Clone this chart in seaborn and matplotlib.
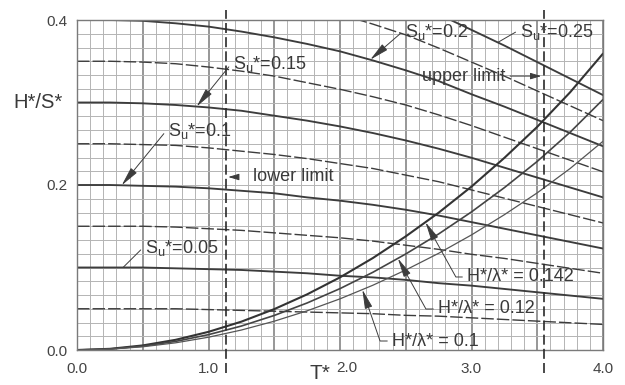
import numpy as np
import pandas as pd
import matplotlib
matplotlib.use("Agg")
import matplotlib.pyplot as plt
from matplotlib.transforms import ScaledTranslation
import seaborn as sns

# Dimensionless wave period T*
t_star = [0.00, 0.25, 0.50, 0.75, 1.00, 1.25, 1.50, 1.75, 2.00,
          2.25, 2.50, 2.75, 3.00, 3.25, 3.50, 3.75, 4.00]

# H*/S* along lines of constant Su*
hs_su_0025 = [0.050, 0.050, 0.050, 0.050, 0.049, 0.048, 0.047, 0.046, 0.045,
              0.044, 0.042, 0.041, 0.039, 0.037, 0.035, 0.033, 0.031]
hs_su_0050 = [0.100, 0.100, 0.100, 0.099, 0.098, 0.097, 0.095, 0.093, 0.090,
              0.088, 0.085, 0.081, 0.078, 0.074, 0.070, 0.066, 0.062]
hs_su_0075 = [0.150, 0.150, 0.150, 0.149, 0.147, 0.145, 0.142, 0.139, 0.136,
              0.132, 0.127, 0.122, 0.116, 0.111, 0.105, 0.099, 0.093]
hs_su_0100 = [0.200, 0.200, 0.199, 0.198, 0.196, 0.193, 0.190, 0.185, 0.181,
              0.176, 0.170, 0.163, 0.155, 0.147, 0.139, 0.131, 0.123]
hs_su_0125 = [0.250, 0.250, 0.249, 0.248, 0.245, 0.241, 0.237, 0.232, 0.226,
              0.220, 0.212, 0.204, 0.194, 0.184, 0.174, 0.164, 0.154]
hs_su_0150 = [0.300, 0.300, 0.299, 0.297, 0.294, 0.290, 0.284, 0.278, 0.271,
              0.263, 0.254, 0.244, 0.233, 0.221, 0.209, 0.197, 0.185]
hs_su_0175 = [0.350, 0.350, 0.349, 0.347, 0.343, 0.338, 0.332, 0.324, 0.316,
              0.307, 0.297, 0.285, 0.272, 0.258, 0.244, 0.230, 0.216]
hs_su_0200 = [0.400, 0.400, 0.399, 0.396, 0.392, 0.386, 0.379, 0.371, 0.362,
              0.351, 0.339, 0.326, 0.310, 0.295, 0.279, 0.263, 0.247]
hs_su_0225 = [0.450, 0.450, 0.449, 0.446, 0.441, 0.434, 0.427, 0.417, 0.407,
              0.395, 0.382, 0.366, 0.349, 0.332, 0.314, 0.296, 0.278]
hs_su_0250 = [0.500, 0.500, 0.499, 0.495, 0.490, 0.483, 0.474, 0.464, 0.452,
              0.439, 0.424, 0.407, 0.388, 0.369, 0.349, 0.329, 0.309]

su_levels = [0.025, 0.05, 0.075, 0.10, 0.125, 0.15, 0.175, 0.20, 0.225, 0.25]
su_series = [hs_su_0025, hs_su_0050, hs_su_0075, hs_su_0100, hs_su_0125,
             hs_su_0150, hs_su_0175, hs_su_0200, hs_su_0225, hs_su_0250]

# Dimensionless wavelength λ* against T*, and the steepness limits H*/λ*
wavelength = [0.000, 0.010, 0.039, 0.087, 0.155, 0.242, 0.349, 0.475, 0.620,
              0.785, 0.970, 1.172, 1.395, 1.640, 1.905, 2.200, 2.530]
steepness = [0.142, 0.12, 0.1]

# Operating range of the paddle
lower_limit_t = 1.13
upper_limit_t = 3.55

# ---------------------------------------------------------------- styling
sns.set_style("white")
plt.rcParams["font.family"] = ["Liberation Sans", "DejaVu Sans"]
plt.rcParams["mathtext.fontset"] = "custom"
plt.rcParams["mathtext.rm"] = "Liberation Sans"
plt.rcParams["mathtext.it"] = "Liberation Sans"

INK = "#3a3a3a"
LINE = "#3c3c3c"

fig = plt.figure(figsize=(6.25, 3.85), dpi=100)
ax = fig.add_axes([77 / 625, 35 / 385, 526 / 625, 330 / 385])

# Su* family
su_frame = pd.DataFrame({
    "T": np.tile(t_star, len(su_levels)),
    "HS": np.concatenate(su_series),
    "Su": np.repeat(su_levels, len(t_star)),
})
for k, su in enumerate(su_levels):
    sub = su_frame[su_frame["Su"] == su]
    solid = (k % 2 == 1)
    sns.lineplot(data=sub, x="T", y="HS", ax=ax, estimator=None, sort=True,
                 color=LINE, lw=1.35 if solid else 1.0,
                 linestyle="-" if solid else (0, (9, 2.2)))

# Steepness family
steep_frame = pd.DataFrame({
    "T": np.tile(t_star, len(steepness)),
    "H": np.concatenate([np.array(wavelength) * s for s in steepness]),
    "s": np.repeat(steepness, len(t_star)),
})
steep_styles = {0.142: (1.5, "#333333"), 0.12: (1.2, "#444444"), 0.1: (0.9, "#555555")}
for s in steepness:
    sub = steep_frame[steep_frame["s"] == s]
    lw, col = steep_styles[s]
    sns.lineplot(data=sub, x="T", y="H", ax=ax, estimator=None, sort=True,
                 color=col, lw=lw)

# Limits of the operating range
for t in (lower_limit_t, upper_limit_t):
    ax.axvline(t, ymin=-0.07, ymax=1.03, clip_on=False, color="#2a2a2a",
               lw=1.2, linestyle=(0, (6, 2.5)), zorder=4)

# Axes, grid
ax.set_xlim(0, 4)
ax.set_ylim(0, 0.4)
ax.set_xticks(np.arange(0, 4.01, 0.5))
ax.set_xticklabels(["0.0", "", "1.0", "", "2.0", "", "3.0", "", "4.0"])
ax.set_xticks(np.arange(0, 4.001, 0.1), minor=True)
ax.set_yticks([0.0, 0.2, 0.4])
ax.set_yticklabels(["0.0", "0.2", "0.4"])
ax.set_yticks(np.arange(0, 0.4001, 0.4 / 24), minor=True)
ax.xaxis.grid(True, which="major", color="#7a7a7a", lw=1.1)
ax.xaxis.grid(True, which="minor", color="#b4b4b4", lw=0.7)
ax.yaxis.grid(True, which="both", color="#b4b4b4", lw=0.7)
ax.set_axisbelow(True)
ax.tick_params(which="both", length=0)
ax.tick_params(axis="x", pad=8.5, labelsize=11, labelcolor="#444444")
ax.tick_params(axis="y", pad=7, labelsize=11, labelcolor="#444444")
for sp in ax.spines.values():
    sp.set_color("#7a7a7a")
    sp.set_linewidth(1.0)
ax.set_xlabel("")
ax.set_ylabel("")

# the "2.0" label sits a little right of its grid line, clear of the axis title
two_label = ax.get_xticklabels()[4]
two_label.set_transform(two_label.get_transform()
                        + ScaledTranslation(7 / 100, 1 / 100, fig.dpi_scale_trans))

fig.text(13 / 625, 1 - 102 / 385, "H*/S*", fontsize=14.5, color=INK,
         ha="left", va="center")
fig.text(310 / 625, 1 - 364 / 385, "T*", fontsize=15, color=INK,
         ha="left", va="top")

# Annotations
arrow_head = dict(arrowstyle="-|>,head_length=0.9,head_width=0.18", color=LINE,
                  lw=0.7, shrinkA=1, shrinkB=0)
plain = dict(arrowstyle="-", color=LINE, lw=0.7, shrinkA=1, shrinkB=0)


def su_label(su, t_tip, text_xy, head=True):
    series = su_series[su_levels.index(su)]
    y_tip = float(np.interp(t_tip, t_star, series))
    props = dict(arrow_head if head else plain)
    props["relpos"] = (0, 0.6)
    ax.annotate(r"S$_\mathregular{u}$*=" + f"{su:g}", xy=(t_tip, y_tip),
                xytext=text_xy, fontsize=13, color=INK, ha="left", va="center",
                arrowprops=props, zorder=6)


su_label(0.15, 0.91, (1.186, 0.347))
su_label(0.10, 0.34, (0.692, 0.266))
su_label(0.05, 0.35, (0.517, 0.124), head=False)
su_label(0.20, 2.23, (2.494, 0.386))
su_label(0.25, 3.20, (3.369, 0.386), head=False)


def steep_label(s, t_tip, text_xy, angle):
    y_tip = s * float(np.interp(t_tip, t_star, wavelength))
    props = dict(arrow_head)
    props["relpos"] = (0, 0.5)
    props["connectionstyle"] = f"angle,angleA=0,angleB={angle},rad=0"
    ax.annotate(r"H*/λ* = " + f"{s:g}", xy=(t_tip, y_tip), xytext=text_xy,
                fontsize=13, color=INK, ha="left", va="center",
                arrowprops=props, zorder=6)


steep_label(0.142, 2.65, (2.966, 0.0885), -61)
steep_label(0.12, 2.44, (2.745, 0.0497), -61)
steep_label(0.1, 2.17, (2.395, 0.0109), -71)

lim_arrow = dict(arrowstyle="-|>,head_length=0.5,head_width=0.15", color=LINE,
                 lw=0.7, shrinkB=0)
ax.annotate("upper limit", xy=(upper_limit_t - 0.02, 0.332), xytext=(2.624, 0.332),
            fontsize=13, color=INK, ha="left", va="center",
            arrowprops=dict(lim_arrow, relpos=(1, 0.5), shrinkA=1), zorder=6)
ax.annotate("lower limit", xy=(lower_limit_t + 0.02, 0.2097), xytext=(1.338, 0.2097),
            fontsize=13, color=INK, ha="left", va="center",
            arrowprops=dict(lim_arrow, relpos=(0, 0.5), shrinkA=10), zorder=6)

fig.savefig("out.png", dpi=100, facecolor="white")
